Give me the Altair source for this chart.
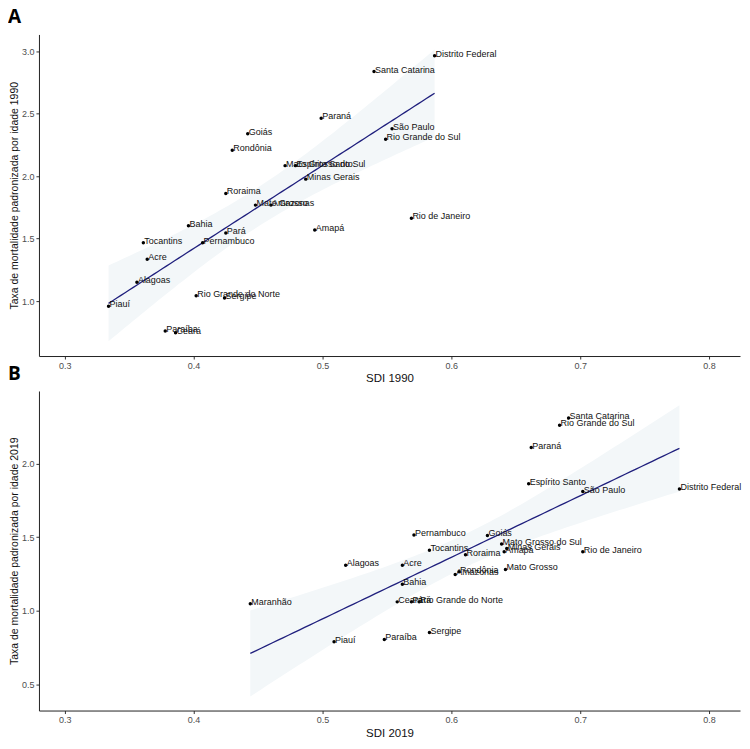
import altair as alt
import numpy as np
import pandas as pd

# ---- Panel A (1990) ----
states_1990 = ["Distrito Federal", "Santa Catarina", "Paraná", "São Paulo", "Rio Grande do Sul",
               "Goiás", "Rondônia", "Mato Grosso do Sul", "Espírito Santo", "Minas Gerais",
               "Roraima", "Mato Grosso", "Amazonas", "Rio de Janeiro", "Bahia", "Pará", "Amapá",
               "Tocantins", "Pernambuco", "Acre", "Alagoas", "Rio Grande do Norte", "Sergipe",
               "Piauí", "Paraíba", "Ceará"]
sdi_1990 = [0.587, 0.540, 0.499, 0.554, 0.549, 0.442, 0.430, 0.471, 0.479, 0.487,
            0.425, 0.448, 0.460, 0.569, 0.396, 0.425, 0.494, 0.361, 0.407, 0.364,
            0.356, 0.402, 0.424, 0.334, 0.378, 0.386]
rate_1990 = [2.963, 2.837, 2.463, 2.379, 2.295, 2.339, 2.208, 2.084, 2.084, 1.976,
             1.861, 1.768, 1.768, 1.663, 1.603, 1.545, 1.568, 1.466, 1.466, 1.334,
             1.150, 1.042, 1.024, 0.958, 0.761, 0.747]

# ---- Panel B (2019) ----
states_2019 = ["Santa Catarina", "Rio Grande do Sul", "Paraná", "Espírito Santo", "São Paulo",
               "Distrito Federal", "Pernambuco", "Goiás", "Mato Grosso do Sul", "Minas Gerais",
               "Amapá", "Rio de Janeiro", "Tocantins", "Roraima", "Alagoas", "Acre", "Rondônia",
               "Amazonas", "Mato Grosso", "Bahia", "Maranhão", "Ceará", "Pará",
               "Rio Grande do Norte", "Sergipe", "Paraíba", "Piauí"]
sdi_2019 = [0.691, 0.684, 0.662, 0.660, 0.702, 0.777, 0.571, 0.628, 0.639, 0.643,
            0.641, 0.702, 0.583, 0.611, 0.518, 0.562, 0.606, 0.603, 0.642, 0.562,
            0.444, 0.558, 0.569, 0.575, 0.583, 0.548, 0.509]
rate_2019 = [2.312, 2.263, 2.111, 1.864, 1.811, 1.829, 1.516, 1.512, 1.454, 1.423,
             1.401, 1.401, 1.412, 1.381, 1.310, 1.310, 1.265, 1.247, 1.281, 1.180,
             1.047, 1.060, 1.060, 1.060, 0.851, 0.804, 0.788]

x_ticks = [0.3, 0.4, 0.5, 0.6, 0.7, 0.8]
y_ticks_1990 = [1.0, 1.5, 2.0, 2.5, 3.0]
y_ticks_2019 = [0.5, 1.0, 1.5, 2.0]

FONT = "Liberation Sans"


def fit_band(x, y, tcrit):
    x = np.asarray(x, dtype=float)
    y = np.asarray(y, dtype=float)
    n = len(x)
    b1, b0 = np.polyfit(x, y, 1)
    resid = y - (b0 + b1 * x)
    s = np.sqrt((resid ** 2).sum() / (n - 2))
    xm = x.mean()
    sxx = ((x - xm) ** 2).sum()
    grid = np.linspace(x.min(), x.max(), 80)
    fit = b0 + b1 * grid
    se = s * np.sqrt(1.0 / n + (grid - xm) ** 2 / sxx)
    return pd.DataFrame({"sdi": grid, "rate": fit, "lo": fit - tcrit * se, "hi": fit + tcrit * se})


def panel(states, sdi, rate, tcrit, year, ydomain, yticks, letter, height):
    pts = pd.DataFrame({"state": states, "sdi": sdi, "rate": rate})
    band = fit_band(sdi, rate, tcrit)
    xs = alt.Scale(domain=[0.28, 0.824], nice=False, zero=False)
    ys = alt.Scale(domain=ydomain, nice=False, zero=False)
    xaxis = alt.Axis(title=f"SDI {year}", values=x_ticks, format=".1f")
    yaxis = alt.Axis(title=f"Taxa de mortalidade padronizada por idade {year}",
                     values=yticks, format=".1f")
    X = alt.X("sdi:Q", scale=xs, axis=xaxis)

    area = alt.Chart(band).mark_area(color="#f3f7f9", opacity=1).encode(
        x=X, y=alt.Y("lo:Q", scale=ys, axis=yaxis), y2="hi:Q")
    line = alt.Chart(band).mark_line(color="#1f1f7d", strokeWidth=1.3).encode(
        x=X, y=alt.Y("rate:Q", scale=ys, axis=yaxis))
    dots = alt.Chart(pts).mark_circle(size=12, color="black", opacity=1).encode(
        x=X, y=alt.Y("rate:Q", scale=ys, axis=yaxis))
    labels = alt.Chart(pts).mark_text(align="left", baseline="middle", dx=1, dy=-2,
                                      fontSize=9, font=FONT, color="#111111").encode(
        x=X, y=alt.Y("rate:Q", scale=ys, axis=yaxis), text="state:N")
    tag = alt.Chart(pd.DataFrame({"t": [letter]})).mark_text(
        align="left", baseline="top", fontSize=19, fontWeight="bold",
        font="Open Sans", color="black").encode(
        text="t:N", x=alt.value(-31), y=alt.value(-26))
    return alt.layer(area, line, dots, labels, tag).properties(width=702, height=height)


pa = panel(states_1990, sdi_1990, rate_1990, 2.064, 1990, [0.56, 3.134], y_ticks_1990, "A", 322)
pb = panel(states_2019, sdi_2019, rate_2019, 2.060, 2019, [0.32, 2.496], y_ticks_2019, "B", 320)

chart = alt.vconcat(pa, pb, spacing=35, bounds="flush").properties(
    padding={"left": 0, "right": 0, "top": 0, "bottom": 0}
).configure_view(stroke=None).configure_axis(
    grid=False,
    domainColor="#222222",
    domainWidth=1,
    tickColor="#333333",
    tickSize=3,
    labelColor="#4d4d4d",
    labelFont=FONT,
    labelFontSize=9,
    labelPadding=2,
    titleFont=FONT,
    titleColor="#111111",
    titleFontWeight="normal",
).configure_axisX(
    titleFontSize=11.5,
    titlePadding=3,
).configure_axisY(
    titleFontSize=10.5,
    titlePadding=2,
)

chart.save("out.html", embed_options={"renderer": "svg", "actions": False})
